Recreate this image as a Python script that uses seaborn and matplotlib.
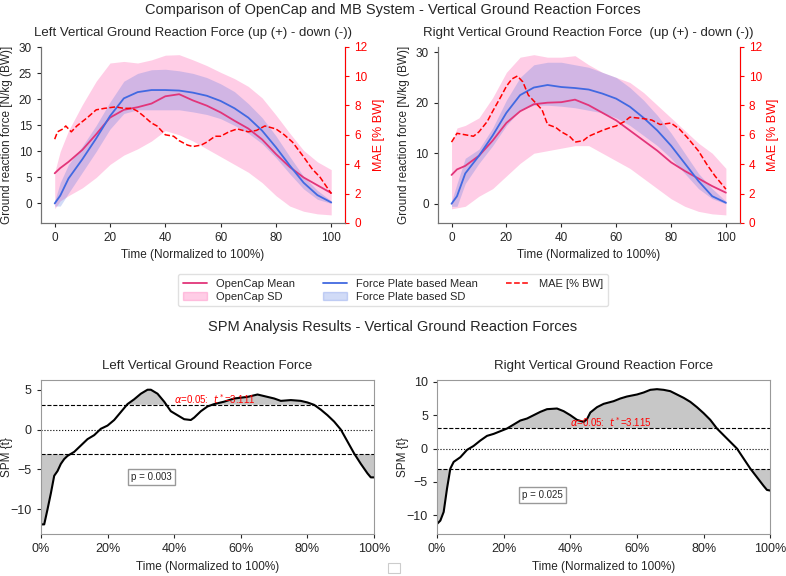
import numpy as np
import pandas as pd
import matplotlib
matplotlib.use('Agg')
import matplotlib.pyplot as plt
import seaborn as sns
from matplotlib.lines import Line2D
from matplotlib.patches import Patch, Rectangle

sns.set_style('ticks')
plt.rcParams['font.family'] = ['Liberation Sans', 'DejaVu Sans']
plt.rcParams['axes.edgecolor'] = '0.45'

# ---- top panels: mean / SD curves (time 0..100 %)
t = [0, 2, 5, 10, 15, 20, 25, 30, 35, 40, 45, 50, 55, 60, 65, 70, 75, 80, 85, 90, 95, 100]

oc_mean_L = [5.8, 6.8, 8, 10.3, 13.3, 16.5, 18, 18.5, 19.2, 20.6, 21, 19.8, 18.8, 17.5, 15.9, 14.4, 12.3, 9.5, 7, 5, 3.5, 2]
oc_up_L = [6, 10, 14, 19, 23.5, 27, 27.3, 27, 27.6, 28.5, 28.6, 27.6, 26.5, 25.2, 24, 22.5, 20.3, 17, 13.5, 10.2, 8, 6.5]
oc_lo_L = [-1, 0.5, 1.5, 3, 5, 7.5, 9.3, 10.5, 12, 14, 13.2, 12, 10.5, 9, 7.5, 6, 4, 1.5, -0.5, -1.5, -2, -2.2]
fp_mean_L = [0, 1.5, 4.8, 8.5, 12.5, 16.8, 20.2, 21.4, 21.8, 21.8, 21.7, 21.3, 20.7, 19.7, 18.3, 16.5, 14, 10.8, 7.3, 4, 1.6, 0.2]
fp_up_L = [0.5, 4, 7.5, 11, 15, 19.5, 23.5, 25, 25.7, 25.8, 25.5, 25, 24.2, 23, 21.5, 19.2, 16.5, 13, 9, 5.2, 2.5, 0.5]
fp_lo_L = [-0.5, -0.5, 2, 6, 10, 14.3, 17.3, 18, 18, 18, 18, 17.6, 17.1, 16.3, 15, 13.5, 11.5, 8.8, 5.7, 2.8, 0.8, 0]

oc_mean_R = [5.7, 6.8, 7.5, 9.5, 12.5, 16, 18.3, 19.7, 20, 20.1, 20.6, 19.5, 18, 16.5, 14.5, 12.5, 10.5, 8.2, 6.5, 5, 3.5, 2.2]
oc_up_R = [12, 15, 15.5, 17, 21, 26, 29, 29.5, 29, 29, 29.3, 27.5, 26, 25, 24, 22, 19.5, 17, 14.5, 12, 10, 7]
oc_lo_R = [-1, -0.8, -0.5, 1.5, 3, 5.5, 8, 10, 10.5, 11, 11.5, 11.5, 10, 8.5, 7, 5, 3, 1, -0.5, -1.5, -2, -2.2]
fp_mean_R = [0, 1.5, 6, 9.5, 13.5, 18, 21.5, 23, 23.5, 23.1, 22.9, 22.6, 21.8, 20.8, 19.2, 17, 14.5, 11.5, 8, 4.5, 1.5, 0.2]
fp_up_R = [0.5, 4, 9, 10.8, 15, 20.5, 25, 27.5, 28, 28, 27.5, 27, 26, 25, 23, 20.5, 17.5, 14, 10, 6, 3, 0.5]
fp_lo_R = [-0.5, -0.5, 4, 8, 11.5, 15.5, 18.5, 19.5, 19.5, 19.3, 19, 18.5, 18, 17, 15.5, 13.5, 11.5, 9, 6, 3, 1, 0]

mae_t_L = [0, 1, 3, 4, 6, 8, 10, 12, 15, 18, 22, 25, 28, 30, 32, 35, 37, 40, 43, 45, 48, 50, 53, 55, 58, 60, 63, 66, 70, 73, 76, 80, 83, 86, 90, 93, 96, 100]
mae_L = [5.7, 6.2, 6.4, 6.6, 6.2, 6.6, 6.9, 7.2, 7.7, 7.8, 7.9, 7.8, 7.8, 7.6, 7.3, 6.8, 6.6, 6.0, 5.9, 5.6, 5.3, 5.2, 5.3, 5.5, 5.9, 5.9, 6.2, 6.4, 6.2, 6.3, 6.6, 6.4, 6.0, 5.5, 4.5, 3.7, 3.1, 2.0]
mae_t_R = [0, 2, 5, 8, 10, 13, 15, 18, 20, 22, 24, 26, 28, 30, 33, 35, 38, 40, 43, 45, 48, 50, 55, 58, 60, 63, 65, 70, 73, 76, 80, 83, 86, 90, 93, 96, 100]
mae_R = [5.5, 6.1, 6.0, 5.9, 6.2, 6.9, 7.6, 8.6, 9.3, 9.8, 10.0, 9.6, 8.7, 8.3, 7.7, 6.7, 6.5, 6.2, 5.9, 5.5, 5.6, 5.9, 6.3, 6.5, 6.6, 6.9, 7.2, 7.1, 7.0, 6.7, 6.8, 6.4, 5.8, 4.9, 4.0, 3.2, 2.3]

# ---- bottom panels: SPM{t}
spm_t_L = [0, 1, 2, 3, 4, 5, 6, 7, 8, 10, 12, 14, 16, 18, 20, 22, 24, 26, 28, 30, 32, 33, 35, 37, 39, 41, 43, 45, 46, 48, 50, 52, 55, 58, 60, 62, 65, 67, 70, 72, 75, 78, 80, 82, 84, 86, 88, 90, 92, 94, 96, 98, 99, 100]
spm_L = [-11.9, -11.9, -10, -8, -5.8, -5.2, -4.3, -3.7, -3.3, -2.8, -2, -1.2, -0.7, 0.1, 0.5, 1.2, 2.2, 3.2, 3.8, 4.5, 5.0, 5.0, 4.5, 3.5, 2.3, 1.8, 1.3, 1.2, 1.5, 2.3, 2.9, 3.2, 3.5, 3.9, 4.0, 4.1, 4.4, 4.2, 3.9, 3.6, 3.7, 3.6, 3.4, 3.1, 2.5, 1.8, 1.0, 0, -1.5, -3.0, -4.3, -5.5, -6, -6]
spm_t_R = [0, 1, 2, 3, 4, 5, 7, 9, 11, 13, 15, 17, 19, 21, 23, 25, 27, 29, 31, 33, 36, 38, 40, 42, 44, 45, 46, 48, 50, 53, 55, 57, 60, 62, 64, 66, 68, 70, 72, 74, 76, 78, 80, 82, 84, 86, 88, 90, 92, 94, 96, 98, 99, 100]
spm_R = [-11.3, -10.8, -9.5, -6, -3, -2, -1.3, -0.2, 0.4, 1.2, 1.9, 2.2, 2.6, 3.0, 3.6, 4.2, 4.5, 5.0, 5.5, 5.9, 6.0, 5.6, 5.0, 4.3, 4.0, 4.4, 5.4, 6.2, 6.7, 7.1, 7.5, 7.8, 8.1, 8.4, 8.8, 8.9, 8.8, 8.6, 8.1, 7.6, 7.0, 6.2, 5.3, 4.3, 3.0, 2.0, 1.0, 0, -1.5, -3.0, -4.3, -5.6, -6.2, -6.3]
thr_L = 3.111
thr_R = 3.115
p_L = 0.003
p_R = 0.025

OC = '#e2357a'
OC_SD = 'hotpink'
FP = 'royalblue'

fig = plt.figure(figsize=(7.86, 5.76), dpi=100)


def grf_panel(rect, title, oc_mean, oc_lo, oc_up, fp_mean, fp_lo, fp_up, mae_t, mae, yticks):
    ax = fig.add_axes(rect)
    df = pd.DataFrame({'t': t, 'oc': oc_mean, 'fp': fp_mean})
    ax.fill_between(t, oc_lo, oc_up, color=OC_SD, alpha=0.33, lw=0)
    ax.fill_between(t, fp_lo, fp_up, color=FP, alpha=0.24, lw=0)
    sns.lineplot(data=df, x='t', y='oc', ax=ax, color=OC, lw=1.3)
    sns.lineplot(data=df, x='t', y='fp', ax=ax, color=FP, lw=1.3)
    ax.set_xticks([0, 20, 40, 60, 80, 100])
    ax.set_yticks(yticks)
    ax.set_xlabel('Time (Normalized to 100%)', fontsize=8.5)
    ax.set_ylabel('Ground reaction force [N/kg (BW)]', fontsize=8.5)
    ax.set_title(title, fontsize=9.5, pad=8)
    ax.tick_params(labelsize=8.5, length=3)
    ax.spines['top'].set_visible(False)
    ax2 = ax.twinx()
    sns.lineplot(x=mae_t, y=mae, ax=ax2, color='red', lw=1.1, linestyle='--')
    ax2.set_ylim(0, 12)
    ax2.set_yticks(range(0, 13, 2))
    ax2.set_ylabel('MAE [% BW]', color='red', fontsize=9)
    ax2.tick_params(axis='y', colors='red', labelsize=8.5, length=3)
    ax2.spines['right'].set_color('red')
    ax2.spines['top'].set_visible(False)
    return ax


def spm_panel(rect, title, x, y, thr, p, ylim, yticks, px, py):
    ax = fig.add_axes(rect)
    x = np.array(x, dtype=float)
    y = np.array(y, dtype=float)
    sns.lineplot(x=x, y=y, ax=ax, color='black', lw=1.5)
    ax.fill_between(x, thr, y, where=y > thr, interpolate=True, color='0.78', lw=0)
    ax.fill_between(x, y, -thr, where=y < -thr, interpolate=True, color='0.78', lw=0)
    ax.axhline(thr, color='black', ls='--', lw=0.8)
    ax.axhline(-thr, color='black', ls='--', lw=0.8)
    ax.axhline(0, color='black', ls=':', lw=0.8)
    ax.text(40, thr + 0.1, r'$\alpha$=0.05:  $t^*$=%.3f' % thr, color='red', fontsize=7)
    ax.text(px, py, 'p = %.3f' % p, fontsize=7, va='center',
            bbox=dict(facecolor='white', edgecolor='0.6', boxstyle='square,pad=0.3'))
    ax.set_xlim(0, 100)
    ax.set_ylim(*ylim)
    ax.set_yticks(yticks)
    ax.set_xticks([0, 20, 40, 60, 80, 100])
    ax.set_xticklabels(['0%', '20%', '40%', '60%', '80%', '100%'])
    ax.set_xlabel('Time (Normalized to 100%)', fontsize=8.5)
    ax.set_ylabel('SPM {t}', fontsize=8.5)
    ax.yaxis.set_label_coords(-0.085, 0.5)
    ax.set_title(title, fontsize=9.5, pad=8)
    ax.tick_params(labelsize=9, length=3)
    for s in ax.spines.values():
        s.set_color('0.6')
    return ax


grf_panel([0.052, 0.613, 0.387, 0.306], 'Left Vertical Ground Reaction Force (up (+) - down (-))',
          oc_mean_L, oc_lo_L, oc_up_L, fp_mean_L, fp_lo_L, fp_up_L, mae_t_L, mae_L, [0, 5, 10, 15, 20, 25, 30])
grf_panel([0.557, 0.613, 0.384, 0.306], 'Right Vertical Ground Reaction Force  (up (+) - down (-))',
          oc_mean_R, oc_lo_R, oc_up_R, fp_mean_R, fp_lo_R, fp_up_R, mae_t_R, mae_R, [0, 10, 20, 30])

spm_panel([0.052, 0.073, 0.424, 0.267], 'Left Vertical Ground Reaction Force',
          spm_t_L, spm_L, thr_L, p_L, (-13.1, 6.2), [-10, -5, 0, 5], 27, -6)
spm_panel([0.556, 0.073, 0.424, 0.267], 'Right Vertical Ground Reaction Force',
          spm_t_R, spm_R, thr_R, p_R, (-12.8, 10.25), [-10, -5, 0, 5, 10], 25.5, -6.9)

fig.suptitle('Comparison of OpenCap and MB System - Vertical Ground Reaction Forces', fontsize=10.5, y=0.995)
fig.text(0.5, 0.432, 'SPM Analysis Results - Vertical Ground Reaction Forces', fontsize=10.5,
         ha='center', va='center')

handles = [Line2D([], [], color=OC, lw=1.3), Patch(color=OC_SD, alpha=0.33),
           Line2D([], [], color=FP, lw=1.3), Patch(color=FP, alpha=0.24),
           Line2D([], [], color='red', lw=1.1, ls='--')]
labels = ['OpenCap Mean', 'OpenCap SD', 'Force Plate based Mean', 'Force Plate based SD', 'MAE [% BW]']
fig.legend(handles, labels, ncol=3, loc='center', bbox_to_anchor=(0.5, 0.496), fontsize=8,
           frameon=True, edgecolor='0.85', columnspacing=2.5, handlelength=2.2,
           borderpad=0.4, labelspacing=0.3)

# small empty box at bottom centre of the reference image
fig.patches.append(Rectangle((0.494, 0.005), 0.015, 0.018, transform=fig.transFigure,
                             fill=False, edgecolor='0.8', lw=0.8))

fig.savefig('out.png', dpi=100)
